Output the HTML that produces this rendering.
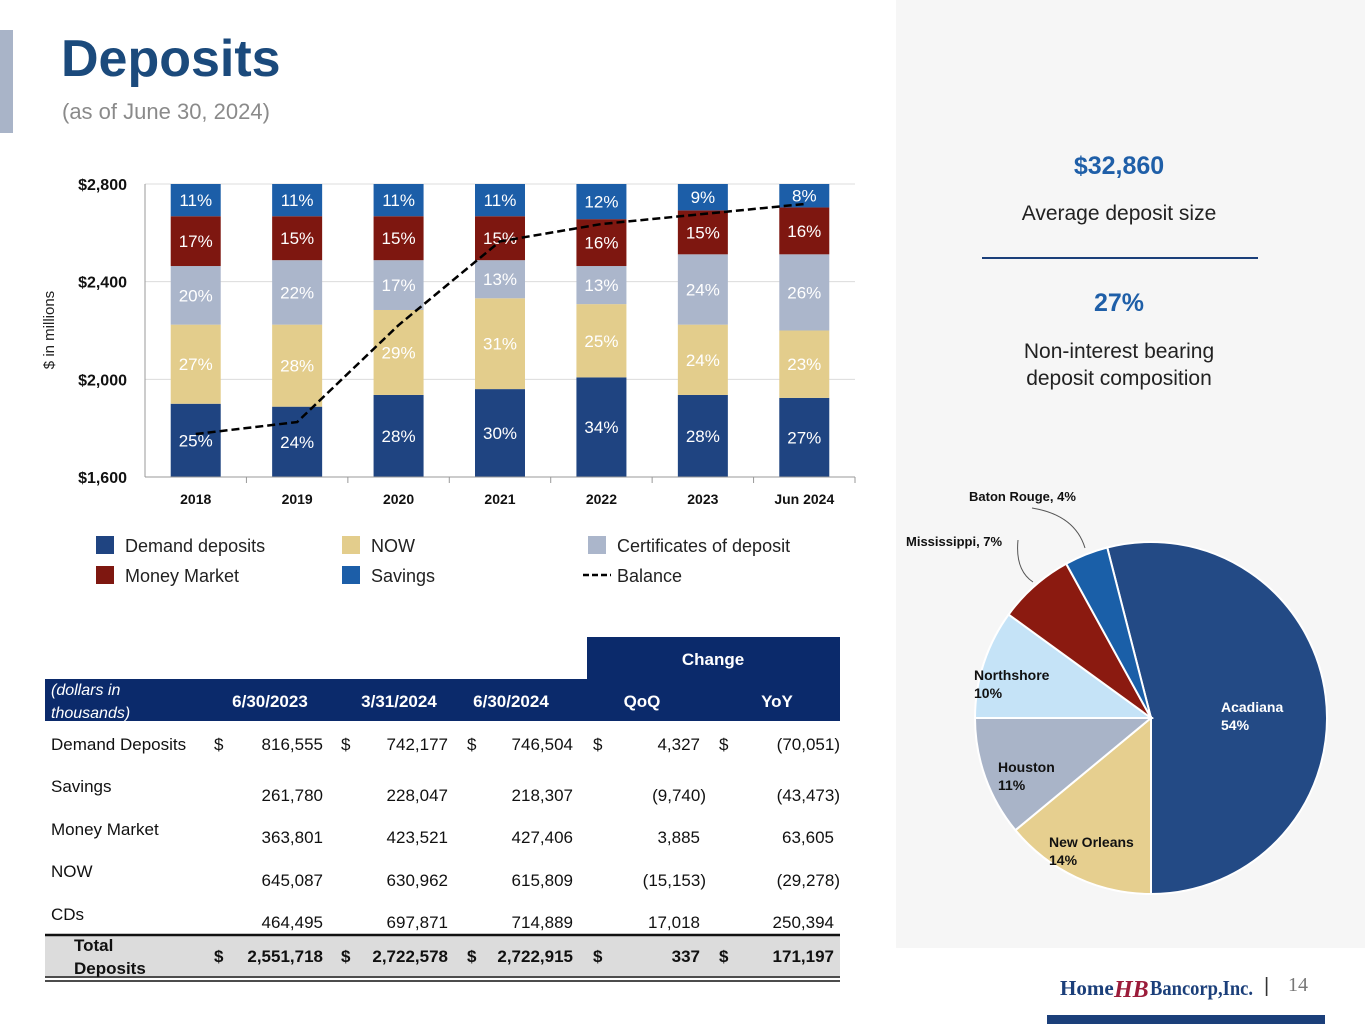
<!DOCTYPE html>
<html><head><meta charset="utf-8"><style>
body{margin:0;width:1365px;height:1024px;overflow:hidden;background:#fff;font-family:"Liberation Sans",Arial,sans-serif;position:relative}
.a{position:absolute}
</style></head><body>
<div class="a" style="left:896px;top:0;width:469px;height:948px;background:#f6f6f6"></div>
<div class="a" style="left:0;top:30px;width:13px;height:103px;background:#a9b4c8"></div>
<div class="a" style="left:61px;top:29px;font-size:52px;font-weight:bold;color:#1b4a7c">Deposits</div>
<div class="a" style="left:62px;top:99px;font-size:22px;color:#8a8a8a">(as of June 30, 2024)</div>

<div class="a" style="left:980px;top:152px;width:278px;text-align:center;font-size:25px;font-weight:bold;color:#1f5fa8">$32,860</div>
<div class="a" style="left:960px;top:202px;width:318px;text-align:center;font-size:21px;color:#222">Average deposit size</div>
<div class="a" style="left:982px;top:257px;width:276px;height:2px;background:#1b3f7a"></div>
<div class="a" style="left:980px;top:289px;width:278px;text-align:center;font-size:25px;font-weight:bold;color:#1f5fa8">27%</div>
<div class="a" style="left:960px;top:338px;width:318px;text-align:center;font-size:21px;line-height:27px;color:#222">Non-interest bearing<br>deposit composition</div>

<svg class="a" style="left:0;top:0" width="1365" height="1024">
<g id="bars"></g>
<g id="pie"></g>
<g id="table"></g>
<g font-size="18" fill="#222">
<rect x="96" y="536" width="18" height="18" fill="#1f4481"/><text x="125" y="552">Demand deposits</text>
<rect x="96" y="566" width="18" height="18" fill="#7e1710"/><text x="125" y="582">Money Market</text>
<rect x="342" y="536" width="18" height="18" fill="#e3cd8c"/><text x="371" y="552">NOW</text>
<rect x="342" y="566" width="18" height="18" fill="#1c5ea8"/><text x="371" y="582">Savings</text>
<rect x="588" y="536" width="18" height="18" fill="#abb6cb"/><text x="617" y="552">Certificates of deposit</text>
<line x1="583" y1="575" x2="611" y2="575" stroke="#000" stroke-width="2.5" stroke-dasharray="6,3"/><text x="617" y="582">Balance</text>
</g>
<g>
<text x="1060" y="995" font-family="Liberation Serif,serif" font-weight="bold" font-size="21" fill="#1b3f7a">Home</text>
<text x="1114" y="997" font-family="Liberation Serif,serif" font-style="italic" font-weight="bold" font-size="24" fill="#9b1c3a">HB</text>
<text x="1150" y="995" font-family="Liberation Serif,serif" font-weight="bold" font-size="21" fill="#1b3f7a" textLength="103" lengthAdjust="spacingAndGlyphs">Bancorp,Inc.</text>
<text x="1264" y="992" font-size="20" fill="#333">|</text>
<text x="1288" y="991" font-family="Liberation Serif,serif" font-size="20" fill="#777">14</text>
<rect x="1047" y="1015" width="278" height="9" fill="#1b3f7a"/>
</g>
</svg>
<script>
const NS="http://www.w3.org/2000/svg";
const categories=["2018","2019","2020","2021","2022","2023","Jun 2024"];
const demandPct=[25,24,28,30,34,28,27];
const nowPct=[27,28,29,31,25,24,23];
const cdPct=[20,22,17,13,13,24,26];
const mmPct=[17,15,15,15,16,15,16];
const savingsPct=[11,11,11,11,12,9,8];
const balance=[1776,1825,2222,2565,2636,2677,2718];
const yTicks=[1600,2000,2400,2800];
const yTickLabels=["$1,600","$2,000","$2,400","$2,800"];
const pieLabels=["Acadiana","New Orleans","Houston","Northshore","Mississippi","Baton Rouge"];
const pieValues=[54,14,11,10,7,4];

function mk(tag,attrs,parent,text){const e=document.createElementNS(NS,tag);for(const k in attrs)e.setAttribute(k,attrs[k]);if(text!==undefined)e.textContent=text;parent.appendChild(e);return e;}
const X0=145,X1=855,Y0=477,Y1=184;
const yScale=v=>Y0-(v-1600)/(2800-1600)*(Y0-Y1);
const band=(X1-X0)/categories.length;
const xScale=i=>X0+band*(i+0.5);
const g=document.getElementById('bars');
yTicks.forEach((t,i)=>{
  const y=yScale(t);
  if(i>0){const l=mk('line',{x1:X0,x2:X1,y1:y,y2:y,stroke:'#dcdcdc','stroke-width':1},g);
  
  }
  const tx=mk('text',{x:X0-18,y:y+6,'text-anchor':'end','font-size':16,'font-weight':'bold',fill:'#111'},g,yTickLabels[i]);
  
  
});
const yt=mk('text',{transform:'translate(54,330) rotate(-90)','text-anchor':'middle','font-size':15,fill:'#222'},g,'$ in millions');


const series=[[demandPct,'#1f4481'],[nowPct,'#e3cd8c'],[cdPct,'#abb6cb'],[mmPct,'#7e1710'],[savingsPct,'#1c5ea8']];
const seriesNames=['demand','now','cd','mm','savings'];
categories.forEach((c,i)=>{
  let cum=0;const cx=xScale(i),w=50;
  series.forEach(([arr,col],s)=>{
    const p=arr[i];
    const yTop=Y0-(cum+p)/100*(Y0-Y1),yBot=Y0-cum/100*(Y0-Y1);
    const r=mk('rect',{x:cx-w/2,y:yTop,width:w,height:yBot-yTop,fill:col},g);
    
    
    const t=mk('text',{x:cx,y:(yTop+yBot)/2+6,'text-anchor':'middle','font-size':17,fill:'#fff'},g,p+'%');
    
    
    cum+=p;
  });
  const xl=mk('text',{x:cx,y:504,'text-anchor':'middle','font-size':14,'font-weight':'bold',fill:'#111'},g,c);
  
  
  const tk=mk('line',{x1:X0+band*(i+1),x2:X0+band*(i+1),y1:Y0,y2:Y0+6,stroke:'#999'},g);
  
  
});
const ax=mk('line',{x1:X0,x2:X1,y1:Y0,y2:Y0,stroke:'#999'},g);


const ay=mk('line',{x1:X0,x2:X0,y1:Y1,y2:Y0,stroke:'#999'},g);


const bl=mk('polyline',{points:balance.map((v,i)=>xScale(i)+','+yScale(v)).join(' '),fill:'none',stroke:'#000','stroke-width':2.5,'stroke-dasharray':'8,4'},g);



// pie
const pg=document.getElementById('pie');
const PCX=1151,PCY=718,R=176;
const pieColors=['#234a85','#e6cf8f','#a9b4c8','#c5e3f7','#8b1a10','#1a5fa8'];
const total=pieValues.reduce((a,b)=>a+b,0);
let ang=180-pieValues[0]/total*360;
const pt=(a,r)=>[PCX+r*Math.sin(a*Math.PI/180),PCY-r*Math.cos(a*Math.PI/180)];
pieValues.forEach((v,i)=>{
  const sweep=v/total*360,a2=ang+sweep;
  const [x1,y1]=pt(ang,R),[x2,y2]=pt(a2,R);
  const p=mk('path',{d:`M${PCX},${PCY}L${x1},${y1}A${R},${R} 0 ${sweep>180?1:0} 1 ${x2},${y2}Z`,fill:pieColors[i],stroke:'#fff','stroke-width':2},pg);
  
  
  ang=a2;
});
const pl=[[1221,712,'Acadiana','54%','#fff'],[1049,847,'New Orleans','14%','#111'],[998,772,'Houston','11%','#111'],[974,680,'Northshore','10%','#111']];
pl.forEach(([x,y,n,v,c],i)=>{
  const t=mk('text',{x:x,y:y,'font-size':14,'font-weight':'bold',fill:c},pg,n);
  
  
  const t2=mk('text',{x:x,y:y+18,'font-size':14,'font-weight':'bold',fill:c},pg,v);
  
  
});
const t3=mk('text',{x:906,y:546,'font-size':13,'font-weight':'bold',fill:'#111'},pg,'Mississippi, '+pieValues[4]+'%');


const t4=mk('text',{x:969,y:501,'font-size':13,'font-weight':'bold',fill:'#111'},pg,'Baton Rouge, '+pieValues[5]+'%');


const c1=mk('path',{d:'M1018,540 Q1015,570 1033,582',fill:'none',stroke:'#555'},pg);


const c2=mk('path',{d:'M1032,508 Q1075,515 1085,548',fill:'none',stroke:'#555'},pg);



// table
const tg=document.getElementById('table');
const rows=[["Demand Deposits",["816,555","742,177","746,504","4,327","(70,051)"],true,750,750],
["Savings",["261,780","228,047","218,307","(9,740)","(43,473)"],false,792,801],
["Money Market",["363,801","423,521","427,406","3,885","63,605"],false,835,843],
["NOW",["645,087","630,962","615,809","(15,153)","(29,278)"],false,877,886],
["CDs",["464,495","697,871","714,889","17,018","250,394"],false,920,928]];
const rEdge=[329,454,579,706,840],dX=[214,341,467,593,719];
const r1=mk('rect',{x:587,y:637,width:253,height:43,fill:'#0b2a6b'},tg);
const r2=mk('rect',{x:45,y:679,width:795,height:42,fill:'#0b2a6b'},tg);
const hdr=[[713,665,'Change'],[270,707,'6/30/2023'],[399,707,'3/31/2024'],[511,707,'6/30/2024'],[642,707,'QoQ'],[777,707,'YoY']];
hdr.forEach(([x,y,s])=>{const t=mk('text',{x:x,y:y,'text-anchor':'middle','font-size':17,'font-weight':'bold',fill:'#fff'},tg,s);});
[['(dollars in',695],['thousands)',718]].forEach(([s,y])=>{const t=mk('text',{x:51,y:y,'font-size':16,'font-style':'italic',fill:'#fff'},tg,s);});
const rg=mk('rect',{x:45,y:935,width:795,height:41,fill:'#dcdcdc'},tg);
[[935,2.5],[977,1.5],[981,1.5]].forEach(([y,w])=>{const l=mk('line',{x1:45,x2:840,y1:y,y2:y,stroke:'#111','stroke-width':w},tg);});
function numCell(s,i,y,bold){
  const x=s.startsWith('(')?rEdge[i]:rEdge[i]-6;
  const t=mk('text',{x:x,y:y,'text-anchor':'end','font-size':17,'font-weight':bold?'bold':'normal',fill:'#111'},tg,s);
  
  
}
rows.forEach(([lab,vals,dollar,ly,vy])=>{
  const t=mk('text',{x:51,y:ly,'font-size':17,fill:'#111'},tg,lab);
  
  
  vals.forEach((v,i)=>{numCell(v,i,vy,false);
    if(dollar){const d=mk('text',{x:dX[i],y:vy,'font-size':17,fill:'#111'},tg,'$');}});
});
const tl=mk('text',{x:74,y:951,'font-size':17,'font-weight':'bold',fill:'#111'},tg,'Total');
const tl2=mk('text',{x:74,y:974,'font-size':17,'font-weight':'bold',fill:'#111'},tg,'Deposits');
["2,551,718","2,722,578","2,722,915","337","171,197"].forEach((v,i)=>{numCell(v,i,962,true);
  const d=mk('text',{x:dX[i],y:962,'font-size':17,'font-weight':'bold',fill:'#111'},tg,'$');});
</script>
</body></html>
